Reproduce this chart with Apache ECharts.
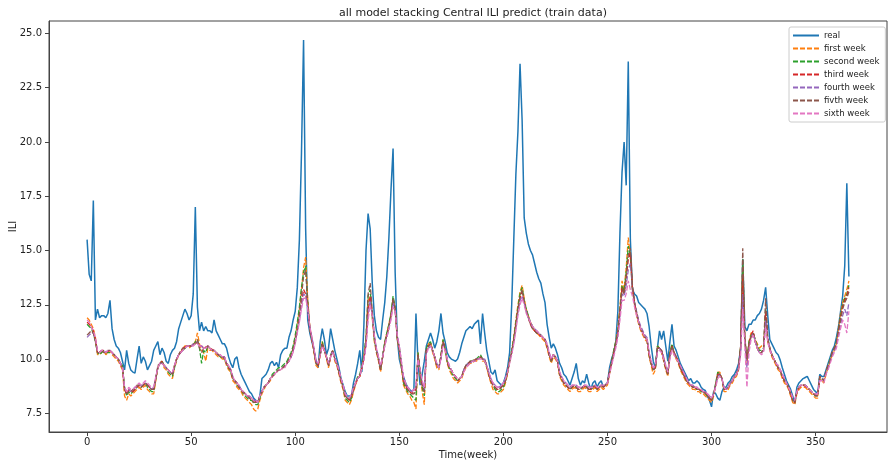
<!DOCTYPE html>
<html>
<head>
<meta charset="UTF-8">
<title>all model stacking Central ILI predict (train data)</title>
<script src="https://cdn.jsdelivr.net/npm/echarts@6/dist/echarts.min.js"></script>
<style>
  html, body { margin: 0; padding: 0; background: #fff; }
  #chartmain { width: 888px; height: 467px; }
</style>
</head>
<body>
<div id="chartmain"></div>
<script type="text/javascript">
// tick labels
var xTicks = [0, 50, 100, 150, 200, 250, 300, 350];
var yTicks = [7.5, 10.0, 12.5, 15.0, 17.5, 20.0, 22.5, 25.0];

// real ILI, week 0..366
var real = [
15.5,13.9,13.6,17.3,11.8,12.3,11.9,12.0,12.0,11.9,
12.1,12.7,11.4,10.9,10.6,10.5,10.3,9.9,9.5,10.4,
9.8,9.5,9.4,9.35,10.0,10.6,9.8,10.1,9.9,9.5,
9.7,9.9,10.4,10.6,10.8,10.2,10.5,10.3,9.9,9.8,
10.2,10.4,10.5,10.8,11.4,11.7,12.0,12.3,12.1,11.8,
12.0,13.0,17.0,12.4,11.3,11.7,11.3,11.5,11.3,11.3,
11.2,11.8,11.3,11.1,10.9,10.7,10.7,10.5,10.1,9.8,
9.6,10.0,10.1,9.6,9.3,9.1,8.9,8.7,8.5,8.4,
8.2,8.1,8.0,8.3,9.1,9.2,9.3,9.5,9.8,9.9,
9.7,9.85,9.6,10.2,10.4,10.5,10.5,11.0,11.3,11.8,
12.2,13.3,15.5,19.5,24.7,16.0,11.8,11.2,10.8,10.4,
9.9,9.6,10.8,11.4,10.9,10.2,10.5,11.4,10.9,10.4,
10.0,9.6,9.1,8.8,8.5,8.3,8.3,8.3,8.9,9.3,
9.8,10.4,9.4,11.6,15.0,16.7,16.0,13.5,12.0,11.3,
11.0,10.9,11.8,12.6,13.8,15.6,17.8,19.7,14.0,11.0,
10.0,9.6,9.2,8.9,8.7,8.6,8.5,8.6,12.1,9.8,
8.8,9.3,9.9,10.6,10.9,11.2,10.9,10.5,10.8,11.3,
12.1,11.2,10.8,10.3,10.1,10.0,9.95,9.9,10.0,10.3,
10.7,11.0,11.3,11.4,11.5,11.4,11.6,11.7,11.8,10.7,
12.1,11.2,10.4,9.9,9.4,9.3,9.5,9.0,8.9,8.8,
8.9,9.2,9.6,10.3,12.5,15.5,18.5,20.5,23.6,21.0,
16.5,15.8,15.3,15.0,14.8,14.4,14.0,13.7,13.5,13.0,
12.6,11.6,11.0,10.5,10.7,10.5,10.2,9.8,9.6,9.3,
9.2,9.0,8.8,9.1,9.4,9.8,9.1,8.8,9.0,8.9,
9.3,8.9,8.6,8.9,9.0,8.7,8.9,9.0,8.7,8.8,
8.9,9.6,10.0,10.3,10.8,12.2,15.8,18.6,20.0,18.0,
23.7,15.5,13.2,13.0,12.9,12.6,12.5,12.4,12.3,12.1,
11.5,10.6,9.9,9.6,10.5,11.3,10.9,11.3,10.6,9.9,
10.8,11.6,10.6,10.4,10.1,9.8,9.6,9.4,9.2,9.0,
9.1,8.9,8.9,9.0,8.9,8.7,8.6,8.55,8.3,8.1,
7.8,8.5,8.4,8.2,8.1,8.5,8.7,8.7,8.9,9.0,
9.2,9.3,9.5,9.8,10.5,14.6,11.5,11.3,11.6,11.6,
11.8,11.8,12.0,12.1,12.3,12.7,13.3,12.0,10.9,10.7,
10.5,10.3,10.2,9.95,9.6,9.3,9.0,8.8,8.6,8.3,
7.95,8.7,8.9,9.0,9.1,9.15,9.2,9.0,8.8,8.6,
8.5,8.4,9.3,9.2,9.2,9.5,9.8,10.1,10.4,10.6,
11.0,11.5,12.2,12.9,14.3,18.1,13.8
];

var firstWeek = [
11.9,11.8,11.6,11.4,11.0,10.2,10.2,10.3,10.4,10.2,
10.3,10.4,10.2,10.1,10.0,9.9,9.7,9.5,8.3,8.1,
8.4,8.3,8.4,8.5,8.6,8.7,8.6,8.7,8.8,8.6,
8.5,8.4,8.4,9.0,9.6,9.8,9.9,9.6,9.5,9.3,
9.2,9.1,9.6,9.9,10.2,10.3,10.5,10.6,10.6,10.5,
10.6,10.7,10.8,11.2,10.7,10.4,10.3,9.9,10.5,10.4,
10.4,10.3,10.2,10.1,10.1,10.0,10.0,9.7,9.5,9.4,
9.0,8.9,8.7,8.6,8.5,8.3,8.2,8.1,8.0,7.9,
7.7,7.6,7.7,8.1,8.4,8.6,8.8,8.9,9.0,9.2,
9.3,9.4,9.5,9.5,9.6,9.7,9.8,10.0,10.2,10.5,
11.0,11.6,12.3,13.2,14.2,14.7,12.8,11.5,10.9,10.3,
9.7,9.6,10.2,10.8,10.4,10.0,9.6,10.1,10.4,9.9,
9.7,9.3,8.9,8.6,8.1,8.0,7.9,8.1,8.5,8.8,
9.1,9.2,9.6,10.1,10.9,12.7,12.9,11.9,10.8,10.3,
9.9,9.4,10.1,10.7,11.2,11.6,12.1,12.8,12.3,10.9,
10.4,9.6,8.8,8.6,8.4,8.3,8.1,8.0,7.7,10.3,
9.3,8.5,7.9,10.4,10.7,10.8,10.3,10.0,9.6,9.5,
10.1,10.9,10.4,9.8,9.5,9.3,9.1,9.0,8.9,9.0,
9.1,9.4,9.6,9.7,9.8,9.8,9.9,9.9,10.0,10.1,
9.9,9.9,9.6,9.2,8.9,8.6,8.5,8.4,8.4,8.5,
8.6,8.9,9.3,9.9,10.4,11.0,11.8,12.5,13.1,13.4,
12.8,12.3,12.0,11.7,11.5,11.3,11.2,11.1,11.0,10.9,
10.8,10.5,10.1,9.8,10.1,10.0,9.8,9.2,9.0,8.8,
8.7,8.6,8.5,8.6,8.7,8.6,8.5,8.5,8.6,8.7,
8.6,8.5,8.5,8.6,8.7,8.5,8.6,8.7,8.6,8.7,
8.8,9.3,9.8,10.3,10.8,11.4,12.4,13.6,13.2,14.2,
15.6,14.7,13.2,12.5,12.0,11.6,11.3,11.1,10.9,10.8,
10.1,9.7,9.3,9.5,10.6,10.5,10.3,9.9,9.5,9.2,
10.3,10.6,10.2,10.0,9.8,9.5,9.3,9.1,8.9,8.8,
8.7,8.6,8.6,8.5,8.5,8.4,8.4,8.3,8.2,8.1,
8.0,8.3,8.8,9.4,9.4,9.1,8.5,8.5,8.6,8.8,
8.9,9.1,9.2,9.5,10.6,14.3,10.8,9.8,10.8,11.2,
11.2,10.9,10.7,10.5,10.6,10.6,12.0,10.8,10.4,10.1,
9.9,9.7,9.5,9.4,9.1,8.9,8.8,8.6,8.3,8.0,
7.9,8.4,8.6,8.7,8.7,8.7,8.6,8.5,8.4,8.3,
8.2,8.2,9.1,9.0,8.9,9.3,9.6,9.9,10.2,10.4,
10.7,11.4,12.1,12.6,12.9,13.2,13.6
];

var secondWeek = [
11.6,11.5,11.4,11.2,10.8,10.3,10.2,10.3,10.4,10.3,
10.3,10.3,10.3,10.2,10.1,10.0,9.8,9.7,8.7,8.3,
8.5,8.4,8.5,8.6,8.7,8.8,8.7,8.8,8.9,8.7,
8.6,8.5,8.5,9.1,9.6,9.8,9.9,9.7,9.6,9.4,
9.3,9.2,9.6,10.0,10.2,10.3,10.4,10.5,10.6,10.6,
10.6,10.6,10.8,10.9,10.5,9.8,10.4,10.3,10.6,10.5,
10.4,10.4,10.3,10.2,10.1,10.1,10.0,9.8,9.6,9.4,
9.1,9.0,8.8,8.7,8.6,8.4,8.3,8.2,8.1,8.1,
8.0,7.9,7.9,8.2,8.5,8.7,8.8,8.9,9.1,9.3,
9.4,9.5,9.6,9.6,9.7,9.8,9.9,10.1,10.3,10.6,
11.1,11.7,12.4,13.3,14.0,14.3,12.6,11.4,10.9,10.4,
9.8,9.7,10.3,10.8,10.4,10.1,9.7,10.2,10.4,10.0,
9.8,9.4,9.0,8.7,8.2,8.1,8.0,8.2,8.6,8.9,
9.2,9.3,9.7,10.2,11.0,12.9,13.2,12.0,10.9,10.4,
10.0,9.5,10.2,10.8,11.2,11.6,12.1,12.9,12.4,11.0,
10.5,9.7,8.9,8.7,8.5,8.4,8.3,8.2,8.1,10.3,
9.4,8.7,8.3,10.5,10.7,10.8,10.4,10.1,9.7,9.6,
10.2,10.9,10.5,9.9,9.6,9.4,9.2,9.1,9.0,9.1,
9.2,9.5,9.7,9.8,9.9,9.9,10.0,10.0,10.1,10.2,
10.0,9.9,9.7,9.3,9.0,8.8,8.6,8.5,8.5,8.6,
8.7,9.0,9.4,9.9,10.4,11.0,11.7,12.4,13.0,13.3,
12.7,12.3,12.0,11.7,11.5,11.3,11.2,11.2,11.1,11.0,
10.9,10.6,10.2,9.9,10.2,10.1,9.9,9.3,9.1,8.9,
8.8,8.7,8.6,8.7,8.8,8.7,8.6,8.6,8.7,8.8,
8.7,8.6,8.6,8.7,8.8,8.6,8.7,8.8,8.7,8.8,
8.9,9.4,9.9,10.4,10.8,11.3,12.3,13.4,13.1,14.0,
15.2,14.8,13.3,12.6,12.1,11.7,11.4,11.2,11.0,10.9,
10.2,9.8,9.5,9.6,10.6,10.5,10.4,10.0,9.6,9.3,
10.3,10.7,10.3,10.1,9.9,9.6,9.4,9.2,9.0,8.9,
8.8,8.7,8.7,8.6,8.6,8.5,8.5,8.4,8.3,8.2,
8.1,8.4,8.9,9.4,9.3,9.1,8.6,8.6,8.7,8.9,
9.0,9.2,9.3,9.6,10.6,14.6,10.9,10.0,10.8,11.1,
11.2,10.9,10.6,10.4,10.4,10.5,12.3,10.9,10.5,10.2,
10.0,9.8,9.6,9.5,9.2,9.0,8.9,8.7,8.4,8.1,
8.0,8.5,8.7,8.8,8.8,8.8,8.7,8.6,8.5,8.4,
8.3,8.3,9.2,9.1,9.0,9.4,9.7,10.0,10.3,10.5,
10.8,11.4,12.0,12.5,12.8,13.0,13.4
];

var thirdWeek = [
11.7,11.6,11.5,11.3,10.9,10.3,10.3,10.4,10.4,10.3,
10.35,10.4,10.3,10.15,10.1,10.0,9.8,9.6,8.6,8.4,
8.6,8.5,8.5,8.6,8.7,8.8,8.7,8.8,8.9,8.8,
8.7,8.6,8.6,9.1,9.6,9.8,9.9,9.7,9.6,9.5,
9.4,9.3,9.7,10.0,10.2,10.3,10.5,10.55,10.6,10.6,
10.6,10.65,10.7,10.8,10.6,10.6,10.5,10.55,10.6,10.5,
10.45,10.4,10.3,10.2,10.15,10.1,10.1,9.8,9.6,9.5,
9.1,9.0,8.9,8.7,8.6,8.45,8.4,8.3,8.2,8.15,
8.1,8.05,8.0,8.3,8.5,8.7,8.8,8.9,9.1,9.2,
9.3,9.4,9.5,9.5,9.6,9.65,9.8,9.9,10.1,10.4,
10.8,11.3,11.9,12.6,13.2,13.0,12.4,11.4,10.9,10.4,
9.8,9.7,10.2,10.7,10.4,10.1,9.7,10.1,10.4,10.0,
9.8,9.4,9.0,8.7,8.3,8.2,8.1,8.3,8.6,8.9,
9.1,9.2,9.6,10.0,10.7,12.2,12.9,12.1,11.0,10.4,
10.0,9.5,10.1,10.7,11.1,11.5,12.0,12.7,12.3,11.0,
10.5,9.8,9.0,8.8,8.6,8.5,8.4,8.5,8.6,10.2,
9.4,8.8,8.5,10.4,10.6,10.7,10.4,10.1,9.7,9.6,
10.1,10.8,10.5,9.9,9.6,9.5,9.3,9.2,9.0,9.1,
9.2,9.5,9.7,9.8,9.85,9.9,9.95,10.0,10.0,10.1,
10.0,9.95,9.7,9.3,9.0,8.8,8.7,8.6,8.6,8.7,
8.8,9.0,9.4,9.9,10.3,10.9,11.6,12.3,12.8,13.1,
12.6,12.2,11.9,11.6,11.4,11.3,11.2,11.15,11.05,11.0,
10.9,10.6,10.2,9.95,10.2,10.1,9.9,9.3,9.1,8.9,
8.8,8.7,8.6,8.7,8.8,8.7,8.6,8.6,8.7,8.75,
8.7,8.6,8.6,8.7,8.75,8.6,8.7,8.75,8.7,8.8,
8.9,9.4,9.8,10.3,10.7,11.2,12.2,13.3,13.0,13.7,
14.6,14.9,13.3,12.6,12.1,11.7,11.4,11.2,11.0,10.9,
10.2,9.8,9.5,9.6,10.5,10.5,10.4,10.0,9.6,9.3,
10.2,10.6,10.3,10.1,9.9,9.6,9.4,9.2,9.0,8.9,
8.75,8.7,8.7,8.6,8.6,8.55,8.5,8.45,8.35,8.2,
8.1,8.4,8.8,9.3,9.3,9.1,8.6,8.6,8.7,8.9,
9.0,9.2,9.3,9.6,10.5,13.8,10.9,9.9,10.7,11.1,
11.3,10.8,10.5,10.3,10.3,10.4,12.2,10.9,10.5,10.2,
10.0,9.8,9.6,9.5,9.2,9.0,8.9,8.7,8.4,8.1,
8.0,8.5,8.7,8.75,8.8,8.75,8.7,8.6,8.5,8.4,
8.35,8.3,9.2,9.1,9.0,9.4,9.7,9.9,10.3,10.5,
10.7,11.3,11.9,12.4,12.7,12.9,13.3
];

var fourthWeek = [
11.0,11.1,11.2,11.2,10.9,10.4,10.3,10.4,10.4,10.3,
10.4,10.4,10.3,10.2,10.1,10.0,9.8,9.6,8.7,8.5,
8.6,8.5,8.6,8.7,8.7,8.8,8.8,8.8,8.9,8.8,
8.7,8.6,8.7,9.1,9.6,9.8,9.8,9.7,9.6,9.5,
9.4,9.3,9.7,10.0,10.2,10.3,10.4,10.5,10.6,10.6,
10.6,10.7,10.7,10.8,10.6,10.6,10.5,10.5,10.6,10.5,
10.4,10.4,10.3,10.2,10.2,10.1,10.1,9.8,9.7,9.5,
9.2,9.0,8.9,8.8,8.6,8.5,8.4,8.3,8.3,8.2,
8.1,8.1,8.0,8.3,8.5,8.7,8.8,8.9,9.1,9.2,
9.3,9.4,9.5,9.5,9.6,9.7,9.8,9.9,10.1,10.4,
10.8,11.3,11.8,12.5,13.0,12.9,12.4,11.5,11.0,10.5,
9.9,9.8,10.2,10.6,10.4,10.1,9.8,10.1,10.4,10.0,
9.8,9.5,9.1,8.8,8.4,8.2,8.2,8.3,8.6,8.9,
9.1,9.2,9.6,10.0,10.6,12.0,12.7,12.1,11.1,10.5,
10.1,9.6,10.1,10.6,11.0,11.4,11.9,12.6,12.3,11.1,
10.6,9.9,9.1,8.9,8.7,8.6,8.5,8.6,8.7,10.1,
9.5,8.9,8.6,10.3,10.5,10.6,10.4,10.1,9.8,9.6,
10.0,10.7,10.5,10.0,9.7,9.5,9.3,9.2,9.1,9.1,
9.2,9.5,9.7,9.8,9.8,9.9,9.9,10.0,10.0,10.1,
10.0,10.0,9.7,9.4,9.1,8.9,8.8,8.7,8.7,8.8,
8.9,9.1,9.4,9.9,10.3,10.8,11.5,12.2,12.7,12.9,
12.6,12.2,11.9,11.7,11.5,11.4,11.3,11.2,11.1,11.0,
10.9,10.7,10.3,10.0,10.2,10.1,9.9,9.4,9.2,9.0,
8.9,8.8,8.7,8.8,8.8,8.8,8.7,8.7,8.7,8.8,
8.8,8.7,8.7,8.7,8.8,8.7,8.7,8.8,8.8,8.8,
8.9,9.4,9.8,10.2,10.6,11.1,12.0,13.0,12.9,13.4,
14.1,14.4,13.3,12.6,12.2,11.8,11.5,11.3,11.1,11.0,
10.3,9.9,9.6,9.7,10.4,10.5,10.4,10.1,9.7,9.4,
10.1,10.5,10.3,10.1,9.9,9.7,9.5,9.3,9.1,8.9,
8.8,8.8,8.7,8.7,8.6,8.6,8.5,8.5,8.4,8.3,
8.2,8.4,8.8,9.2,9.3,9.1,8.7,8.6,8.7,8.9,
9.0,9.2,9.3,9.6,10.4,13.0,10.8,9.6,10.5,11.0,
11.2,10.8,10.5,10.3,10.3,10.4,11.8,10.9,10.5,10.2,
10.0,9.8,9.7,9.5,9.3,9.1,8.9,8.7,8.5,8.2,
8.1,8.5,8.7,8.8,8.8,8.8,8.7,8.6,8.5,8.4,
8.4,8.4,9.1,9.1,9.0,9.4,9.6,9.9,10.2,10.4,
10.6,11.1,11.6,12.0,12.3,12.0,12.6
];

var fifthWeek = [
11.1,11.2,11.3,11.2,10.8,10.3,10.3,10.4,10.3,10.3,
10.4,10.4,10.3,10.2,10.1,10.0,9.8,9.6,8.6,8.4,
8.5,8.5,8.6,8.6,8.8,8.8,8.7,8.8,8.9,8.8,
8.7,8.6,8.6,9.1,9.7,9.8,9.9,9.7,9.6,9.5,
9.4,9.3,9.7,10.0,10.2,10.4,10.5,10.5,10.6,10.6,
10.6,10.7,10.7,10.9,10.5,10.3,10.5,10.5,10.6,10.5,
10.4,10.4,10.3,10.2,10.1,10.1,10.0,9.8,9.6,9.5,
9.1,9.0,8.9,8.7,8.6,8.5,8.4,8.3,8.2,8.1,
8.0,8.0,8.0,8.3,8.5,8.7,8.8,8.9,9.1,9.2,
9.3,9.4,9.5,9.5,9.6,9.7,9.8,10.0,10.2,10.5,
10.9,11.4,12.1,12.9,13.8,14.1,12.6,11.4,10.9,10.4,
9.8,9.7,10.2,10.7,10.4,10.1,9.7,10.1,10.4,10.0,
9.8,9.4,9.0,8.7,8.3,8.2,8.1,8.3,8.6,8.9,
9.1,9.2,9.6,10.1,10.9,13.0,13.5,12.2,11.0,10.4,
10.0,9.5,10.1,10.7,11.1,11.5,12.0,12.8,12.3,11.0,
10.5,9.8,9.0,8.8,8.6,8.5,8.4,8.4,8.5,10.2,
9.4,8.8,8.5,10.4,10.6,10.7,10.4,10.1,9.7,9.6,
10.1,10.8,10.5,9.9,9.6,9.5,9.3,9.2,9.0,9.1,
9.2,9.5,9.7,9.8,9.9,9.9,9.9,10.0,10.0,10.1,
10.0,10.0,9.7,9.3,9.0,8.8,8.7,8.6,8.6,8.7,
8.8,9.0,9.4,9.9,10.3,10.9,11.6,12.3,12.9,13.2,
12.6,12.2,11.9,11.6,11.4,11.3,11.2,11.2,11.1,11.0,
10.9,10.6,10.2,9.9,10.2,10.1,9.9,9.3,9.1,8.9,
8.8,8.7,8.6,8.7,8.8,8.7,8.6,8.6,8.7,8.8,
8.7,8.6,8.6,8.7,8.8,8.6,8.7,8.8,8.7,8.8,
8.9,9.4,9.8,10.3,10.7,11.2,12.2,13.2,13.0,13.8,
14.8,15.1,13.4,12.6,12.1,11.7,11.4,11.2,11.0,10.9,
10.2,9.8,9.5,9.6,10.5,10.5,10.4,10.0,9.6,9.3,
10.2,10.6,10.3,10.1,9.9,9.6,9.4,9.2,9.0,8.9,
8.8,8.7,8.7,8.6,8.6,8.5,8.5,8.4,8.3,8.2,
8.1,8.4,8.8,9.3,9.3,9.1,8.6,8.6,8.7,8.9,
9.0,9.2,9.3,9.6,10.6,15.1,11.0,10.0,10.7,11.0,
11.2,10.8,10.5,10.3,10.3,10.5,12.8,11.0,10.5,10.2,
10.0,9.8,9.6,9.5,9.2,9.0,8.9,8.7,8.4,8.1,
8.0,8.5,8.7,8.8,8.8,8.8,8.7,8.6,8.5,8.4,
8.3,8.3,9.2,9.1,9.0,9.4,9.7,9.9,10.3,10.5,
10.7,11.3,11.8,12.3,12.6,12.8,13.1
];

var sixthWeek = [
11.8,11.7,11.5,11.3,11.0,10.4,10.3,10.4,10.4,10.3,
10.4,10.4,10.3,10.2,10.1,10.0,9.8,9.6,8.7,8.5,
8.7,8.6,8.6,8.7,8.8,8.9,8.8,8.9,9.0,8.9,
8.8,8.7,8.7,9.2,9.6,9.8,9.8,9.7,9.6,9.5,
9.4,9.4,9.7,10.0,10.2,10.3,10.4,10.5,10.6,10.6,
10.6,10.6,10.7,10.7,10.6,10.6,10.5,10.5,10.6,10.5,
10.4,10.4,10.3,10.2,10.2,10.1,10.1,9.8,9.7,9.5,
9.2,9.0,8.9,8.8,8.6,8.5,8.4,8.3,8.3,8.2,
8.1,8.1,8.0,8.3,8.5,8.7,8.8,8.9,9.1,9.2,
9.3,9.4,9.5,9.5,9.6,9.6,9.8,9.9,10.1,10.3,
10.7,11.2,11.7,12.3,12.8,12.8,12.3,11.5,11.0,10.5,
9.9,9.8,10.2,10.6,10.4,10.1,9.8,10.1,10.3,10.0,
9.8,9.5,9.1,8.8,8.4,8.3,8.2,8.4,8.7,8.9,
9.1,9.2,9.6,10.0,10.6,11.8,12.5,12.0,11.1,10.5,
10.1,9.7,10.1,10.6,11.0,11.4,11.8,12.4,12.2,11.1,
10.6,9.9,9.2,8.9,8.7,8.6,8.5,8.6,8.7,10.0,
9.5,9.0,8.7,10.2,10.5,10.6,10.4,10.1,9.8,9.6,
10.0,10.6,10.4,10.0,9.7,9.5,9.3,9.2,9.1,9.1,
9.2,9.4,9.6,9.7,9.8,9.9,9.9,9.9,10.0,10.0,
10.0,9.9,9.7,9.4,9.1,8.9,8.8,8.7,8.7,8.8,
8.9,9.1,9.4,9.8,10.2,10.7,11.3,12.0,12.5,12.8,
12.5,12.1,11.9,11.7,11.5,11.4,11.3,11.2,11.1,11.0,
10.9,10.7,10.3,10.0,10.2,10.1,9.9,9.4,9.2,9.0,
8.9,8.8,8.7,8.8,8.8,8.8,8.7,8.7,8.7,8.8,
8.8,8.7,8.7,8.7,8.8,8.7,8.7,8.8,8.8,8.8,
8.9,9.3,9.7,10.1,10.5,11.0,11.8,12.7,12.7,13.0,
13.6,13.2,12.9,12.4,12.0,11.7,11.4,11.2,11.0,10.9,
10.3,9.9,9.6,9.7,10.3,10.4,10.3,10.0,9.7,9.4,
10.0,10.4,10.2,10.0,9.9,9.7,9.5,9.3,9.1,8.9,
8.8,8.8,8.7,8.7,8.6,8.6,8.5,8.5,8.4,8.3,
8.2,8.4,8.7,9.1,9.2,9.1,8.7,8.6,8.7,8.9,
9.0,9.2,9.3,9.5,10.2,12.3,10.6,8.7,10.3,10.9,
11.1,10.8,10.5,10.3,10.2,10.3,11.5,10.8,10.4,10.2,
10.0,9.8,9.7,9.5,9.3,9.1,8.9,8.7,8.5,8.2,
8.1,8.5,8.7,8.8,8.8,8.8,8.7,8.6,8.5,8.4,
8.4,8.4,9.0,9.0,8.9,9.3,9.5,9.8,10.1,10.3,
10.5,11.0,11.4,11.8,11.6,11.2,12.2
];

var seriesNames = ['real', 'first week', 'second week', 'third week', 'fourth week', 'fivth week', 'sixth week'];
var seriesData = [real, firstWeek, secondWeek, thirdWeek, fourthWeek, fifthWeek, sixthWeek];
var colors = ['#1f77b4', '#ff7f0e', '#2ca02c', '#d62728', '#9467bd', '#8c564b', '#e377c2'];

var myChart = echarts.init(document.getElementById('chartmain'));

var series = seriesNames.map(function (name, k) {
  return {
    name: name,
    type: 'line',
    showSymbol: false,
    symbol: 'none',
    data: seriesData[k].map(function (v, i) { return [i, v]; }),
    lineStyle: {
      color: colors[k],
      width: k === 0 ? 1.5 : 1.3,
      type: k === 0 ? 'solid' : [5, 2]
    },
    itemStyle: { color: colors[k] },
    z: k === 0 ? 2 : 3
  };
});

var fontFam = 'DejaVu Sans';

myChart.setOption({
  animation: false,
  color: colors,
  textStyle: { fontFamily: fontFam },
  title: {
    text: 'all model stacking Central ILI predict (train data)',
    left: 468,
    textAlign: 'center',
    top: 3,
    textStyle: { fontFamily: fontFam, fontSize: 11, fontWeight: 'normal', color: '#222' }
  },
  legend: {
    orient: 'vertical',
    left: 789,
    top: 27,
    itemWidth: 26,
    itemHeight: 10,
    itemGap: 4,
    padding: [4, 6, 4, 3],
    borderColor: '#ccc',
    borderWidth: 1,
    borderRadius: 2,
    backgroundColor: '#fff',
    itemStyle: { opacity: 0 },
    textStyle: { fontFamily: fontFam, fontSize: 8.5, color: '#222' },
    data: seriesNames
  },
  grid: {
    left: 49,
    right: 1,
    top: 21,
    bottom: 35,
    show: true,
    borderColor: '#444',
    borderWidth: 1,
    containLabel: false,
    outerBoundsMode: 'none'
  },
  xAxis: {
    type: 'value',
    min: -18.3,
    max: 384.3,
    name: 'Time(week)',
    nameLocation: 'middle',
    nameGap: 18,
    nameMoveOverlap: false,
    nameTextStyle: { fontFamily: fontFam, fontSize: 10, color: '#222' },
    axisLine: { show: true, onZero: false, lineStyle: { color: '#444' } },
    axisTick: { show: true, length: 4, customValues: xTicks, lineStyle: { color: '#444' } },
    axisLabel: { customValues: xTicks, fontFamily: fontFam, fontSize: 10, color: '#222', margin: 5 },
    splitLine: { show: false }
  },
  yAxis: {
    type: 'value',
    min: 6.64,
    max: 25.57,
    name: 'ILI',
    nameLocation: 'middle',
    nameGap: 31,
    nameMoveOverlap: false,
    nameTextStyle: { fontFamily: fontFam, fontSize: 10, color: '#222' },
    axisLine: { show: true, onZero: false, lineStyle: { color: '#444' } },
    axisTick: { show: true, length: 4, customValues: yTicks, lineStyle: { color: '#444' } },
    axisLabel: {
      customValues: yTicks,
      fontFamily: fontFam,
      fontSize: 10,
      color: '#222',
      margin: 7,
      formatter: function (v) { return v.toFixed(1); }
    },
    splitLine: { show: false }
  },
  series: series
});
</script>
</body>
</html>
